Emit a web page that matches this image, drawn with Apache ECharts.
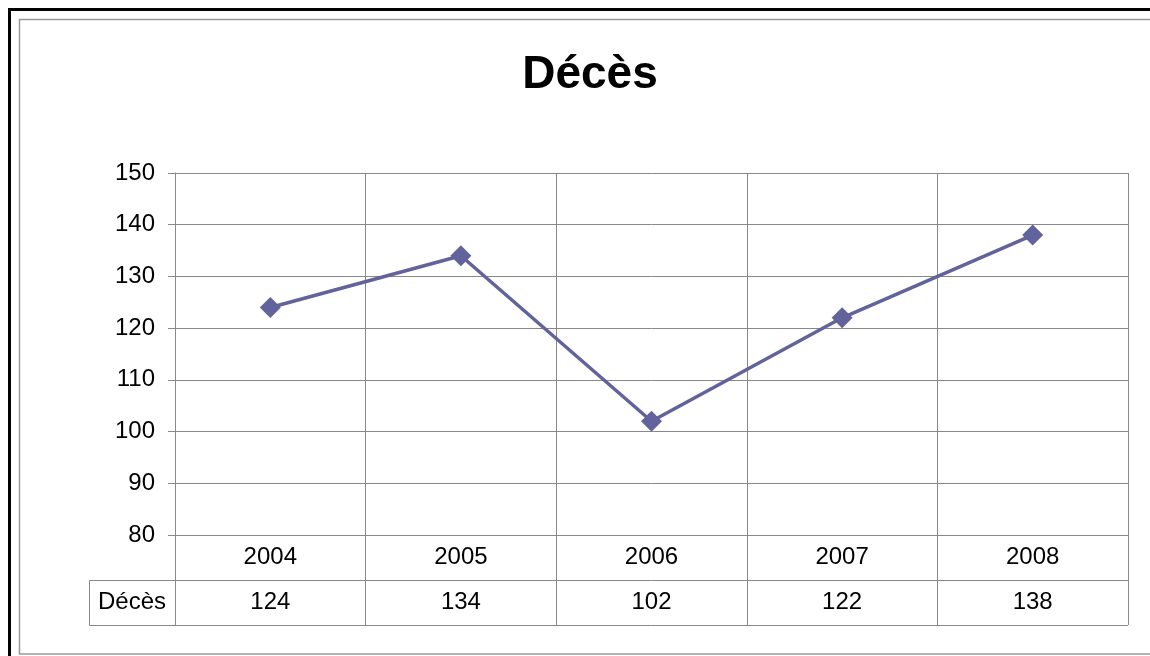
<!DOCTYPE html>
<html>
<head>
<meta charset="utf-8">
<script src="https://cdn.jsdelivr.net/npm/echarts@6/dist/echarts.min.js"></script>
<style>
  html, body { margin: 0; padding: 0; background: #fff; }
  #chart { width: 1150px; height: 656px; }
</style>
</head>
<body>
<div id="chart"></div>
<script>
// données
const years = ['2004', '2005', '2006', '2007', '2008']
const deces = [124, 134, 102, 122, 138]
const seriesName = 'Décès'
const yMin = 80
const yMax = 150
const yStep = 10

const gridColor = '#888'
const lineColor = '#62629c'
const font = 'Liberation Sans, Arial, sans-serif'

const myChart = echarts.init(document.getElementById('chart'))

const option = {
    animation: false,
    title: {
        text: 'Décès',
        left: 585,
        textAlign: 'center',
        top: 47,
        textStyle: {
            fontFamily: font,
            fontSize: 46,
            fontWeight: 'bold',
            color: '#000'
        }
    },
    // cadres extérieurs + cellule d'en-tête du tableau
    graphic: [
        {
            type: 'rect',
            shape: { x: 9.5, y: 9.5, width: 1300, height: 800 },
            style: { fill: null, stroke: '#000', lineWidth: 3 }
        },
        {
            type: 'rect',
            shape: { x: 19.5, y: 19.5, width: 1300, height: 634.5 },
            style: { fill: null, stroke: '#999', lineWidth: 1.5 }
        },
        {
            type: 'polyline',
            shape: { points: [[175, 580.5], [89.5, 580.5], [89.5, 625.5], [175, 625.5]] },
            style: { fill: null, stroke: gridColor, lineWidth: 1 }
        }
    ],
    grid: [
        { left: 175, right: 22, top: 173, bottom: 121 },
        { left: 175, right: 22, top: 535, height: 90 }
    ],
    xAxis: [{
        type: 'category',
        gridIndex: 0,
        data: years,
        boundaryGap: true,
        axisLine: { show: true, lineStyle: { color: gridColor } },
        axisTick: { show: false },
        axisLabel: {
            margin: 10,
            color: '#000',
            fontFamily: font,
            fontSize: 24
        },
        splitLine: { show: true, lineStyle: { color: gridColor } }
    }, {
        type: 'category',
        gridIndex: 1,
        data: years,
        boundaryGap: true,
        axisLine: { show: false },
        axisTick: { show: false },
        axisLabel: { show: false },
        splitLine: { show: true, lineStyle: { color: gridColor } }
    }],
    yAxis: [{
        type: 'value',
        gridIndex: 0,
        min: yMin,
        max: yMax,
        interval: yStep,
        axisLine: { show: true, lineStyle: { color: gridColor } },
        axisTick: { show: true, length: 7, lineStyle: { color: gridColor } },
        axisLabel: {
            margin: 20,
            color: '#000',
            fontFamily: font,
            fontSize: 24
        },
        splitLine: { show: true, lineStyle: { color: gridColor } }
    }, {
        type: 'category',
        gridIndex: 1,
        data: ['', seriesName],
        inverse: true,
        boundaryGap: true,
        axisLine: { show: false },
        axisTick: { show: false },
        axisLabel: {
            margin: 43,
            align: 'center',
            color: '#000',
            fontFamily: font,
            fontSize: 24
        },
        splitLine: { show: true, lineStyle: { color: gridColor } }
    }],
    series: [{
        name: seriesName,
        type: 'line',
        xAxisIndex: 0,
        yAxisIndex: 0,
        data: deces,
        symbol: 'diamond',
        symbolSize: 21,
        lineStyle: { color: lineColor, width: 3.5 },
        itemStyle: { color: lineColor }
    }, {
        // valeurs du tableau de données
        name: 'table',
        type: 'scatter',
        xAxisIndex: 1,
        yAxisIndex: 1,
        symbolSize: 0,
        data: years.map((y, i) => [y, seriesName, deces[i]]),
        itemStyle: { opacity: 1 },
        label: {
            show: true,
            position: 'inside',
            formatter: p => p.value[2],
            color: '#000',
            fontFamily: font,
            fontSize: 24
        }
    }]
}

myChart.setOption(option)
</script>
</body>
</html>
